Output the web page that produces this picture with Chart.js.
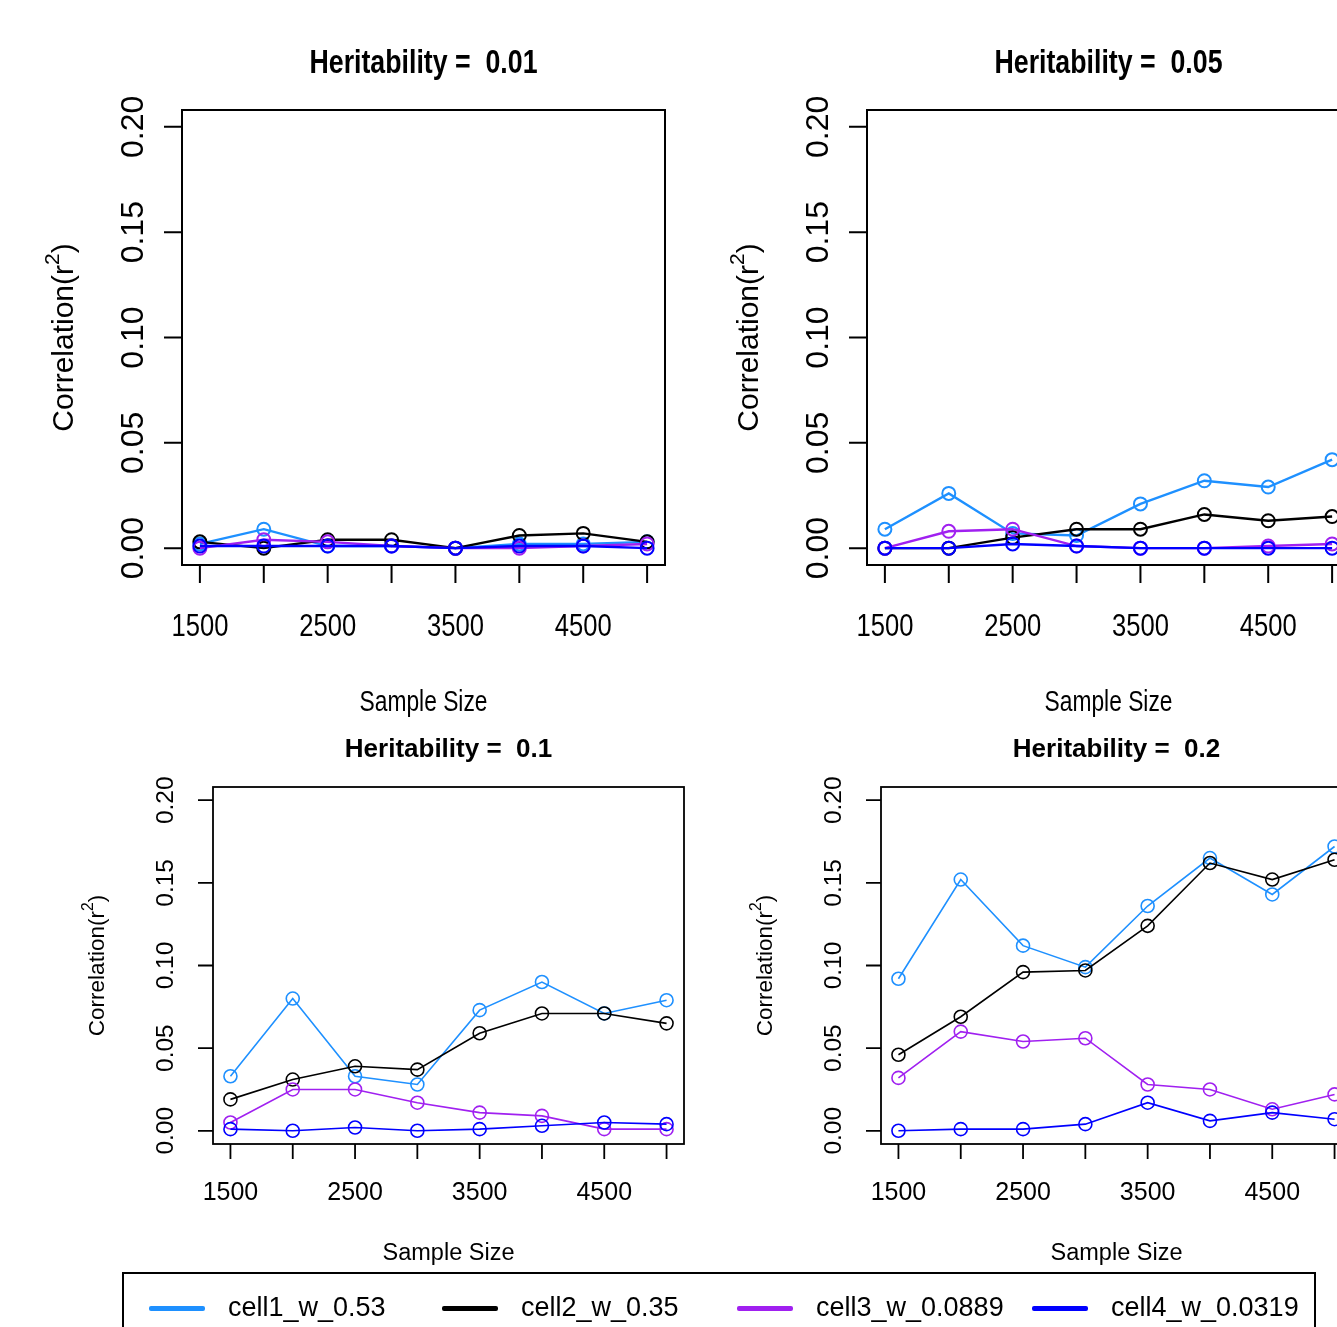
<!DOCTYPE html>
<html>
<head>
<meta charset="utf-8">
<script src="https://cdn.jsdelivr.net/npm/chart.js@4.4.1/dist/chart.umd.min.js"></script>
<style>
  html, body { margin: 0; padding: 0; background: #fff; }
  #page { position: relative; width: 1337px; height: 1327px; overflow: hidden; background: #fff; }
  .panel { position: absolute; }
  #legend {
    position: absolute; left: 122px; top: 1272px; width: 1190px; height: 80px;
    border: 2px solid #000; box-sizing: content-box;
    font-family: "Liberation Sans", Arial, sans-serif; font-size: 27px; color: #000;
  }
  .leg-line { position: absolute; top: 32px; width: 56px; height: 5px; border-radius: 2px; }
  .leg-text { position: absolute; top: 15px; line-height: 36px; white-space: nowrap; }
</style>
</head>
<body>
<div id="page">
  <div class="panel" style="left:0px;top:0px"><canvas id="p1" width="690" height="720"></canvas></div>
  <div class="panel" style="left:685px;top:0px"><canvas id="p2" width="690" height="720"></canvas></div>
  <div class="panel" style="left:0px;top:720px"><canvas id="p3" width="720" height="560"></canvas></div>
  <div class="panel" style="left:668px;top:720px"><canvas id="p4" width="720" height="560"></canvas></div>
  <div id="legend"></div>
</div>
<script>
const sampleSizes = [1500, 2000, 2500, 3000, 3500, 4000, 4500, 5000];
const xLabelValues = [1500, 2500, 3500, 4500];
const yTickValues = [0, 0.05, 0.10, 0.15, 0.20];
const yTickLabels = ["0.00", "0.05", "0.10", "0.15", "0.20"];

const seriesNames = ["cell1_w_0.53", "cell2_w_0.35", "cell3_w_0.0889", "cell4_w_0.0319"];
const seriesColors = ["#1E90FF", "#000000", "#A020F0", "#0000FF"];

// heritability 0.01
const h001_cell1 = [0.002, 0.009, 0.001, 0.001, 0.000, 0.002, 0.002, 0.003];
const h001_cell2 = [0.003, 0.000, 0.004, 0.004, 0.000, 0.006, 0.007, 0.003];
const h001_cell3 = [0.000, 0.004, 0.003, 0.001, 0.000, 0.000, 0.001, 0.002];
const h001_cell4 = [0.001, 0.001, 0.001, 0.001, 0.000, 0.001, 0.001, 0.000];
// heritability 0.05
const h005_cell1 = [0.009, 0.026, 0.007, 0.006, 0.021, 0.032, 0.029, 0.042];
const h005_cell2 = [0.000, 0.000, 0.005, 0.009, 0.009, 0.016, 0.013, 0.015];
const h005_cell3 = [0.000, 0.008, 0.009, 0.001, 0.000, 0.000, 0.001, 0.002];
const h005_cell4 = [0.000, 0.000, 0.002, 0.001, 0.000, 0.000, 0.000, 0.000];
// heritability 0.1
const h01_cell1 = [0.033, 0.080, 0.033, 0.028, 0.073, 0.090, 0.071, 0.079];
const h01_cell2 = [0.019, 0.031, 0.039, 0.037, 0.059, 0.071, 0.071, 0.065];
const h01_cell3 = [0.005, 0.025, 0.025, 0.017, 0.011, 0.009, 0.001, 0.001];
const h01_cell4 = [0.001, 0.000, 0.002, 0.000, 0.001, 0.003, 0.005, 0.004];
// heritability 0.2
const h02_cell1 = [0.092, 0.152, 0.112, 0.099, 0.136, 0.165, 0.143, 0.172];
const h02_cell2 = [0.046, 0.069, 0.096, 0.097, 0.124, 0.162, 0.152, 0.164];
const h02_cell3 = [0.032, 0.060, 0.054, 0.056, 0.028, 0.025, 0.013, 0.022];
const h02_cell4 = [0.000, 0.001, 0.001, 0.004, 0.017, 0.006, 0.011, 0.007];

const FONT = '"Liberation Sans", Arial, sans-serif';

// text styles: big (top row) and small (bottom row)
const bigStyle = {
    lineW: 2.4, pointR: 6.5, pointW: 2, boxW: 2, tickLen: 18,
    title: { size: 33, sx: 0.81, dy: -46 },
    xlab: { size: 32, sx: 0.8, dy: 62 },
    xtitle: { size: 30, sx: 0.76, dy: 138 },
    ylab: { size: 32, dx: -48 },
    ytitle: { size: 30, dx: -117 }
};
const smallStyle = {
    lineW: 1.6, pointR: 6.5, pointW: 1.6, boxW: 1.8, tickLen: 15,
    title: { size: 26, sx: 1, dy: -37 },
    xlab: { size: 25, sx: 1, dy: 49 },
    xtitle: { size: 23.5, sx: 1, dy: 110 },
    ylab: { size: 24.5, dx: -47 },
    ytitle: { size: 22.5, dx: -115 }
};

function drawText(ctx, txt, x, y, size, bold, sx) {
    ctx.save();
    ctx.translate(x, y);
    ctx.scale(sx, 1);
    ctx.font = (bold ? "bold " : "") + size + "px " + FONT;
    ctx.textAlign = "center";
    ctx.textBaseline = "middle";
    ctx.fillText(txt, 0, 0);
    ctx.restore();
}

/* R style box, axes and labels */
const rAxes = {
    id: "rAxes",
    afterDraw(chart, args, opts) {
        const ctx = chart.ctx, a = chart.chartArea, st = opts.style;
        const xs = chart.scales.x, ys = chart.scales.y;
        ctx.save();
        ctx.strokeStyle = "#000";
        ctx.fillStyle = "#000";
        ctx.lineWidth = st.boxW;
        ctx.strokeRect(a.left, a.top, a.right - a.left, a.bottom - a.top);

        // x ticks
        ctx.beginPath();
        sampleSizes.forEach(v => {
            const px = xs.getPixelForValue(v);
            ctx.moveTo(px, a.bottom);
            ctx.lineTo(px, a.bottom + st.tickLen);
        });
        // y ticks
        yTickValues.forEach(v => {
            const py = ys.getPixelForValue(v);
            ctx.moveTo(a.left, py);
            ctx.lineTo(a.left - st.tickLen, py);
        });
        ctx.stroke();

        xLabelValues.forEach(v => {
            drawText(ctx, String(v), xs.getPixelForValue(v), a.bottom + st.xlab.dy, st.xlab.size, false, st.xlab.sx);
        });

        yTickValues.forEach((v, i) => {
            ctx.save();
            ctx.translate(a.left + st.ylab.dx, ys.getPixelForValue(v));
            ctx.rotate(-Math.PI / 2);
            drawText(ctx, yTickLabels[i], 0, 0, st.ylab.size, false, 1);
            ctx.restore();
        });

        const cx = (a.left + a.right) / 2;
        const cy = (a.top + a.bottom) / 2;
        drawText(ctx, opts.title, cx, a.top + st.title.dy, st.title.size, true, st.title.sx);
        drawText(ctx, "Sample Size", cx, a.bottom + st.xtitle.dy, st.xtitle.size, false, st.xtitle.sx);

        // y title with superscript
        ctx.save();
        ctx.translate(a.left + st.ytitle.dx, cy);
        ctx.rotate(-Math.PI / 2);
        const fs = st.ytitle.size, sup = fs * 0.7;
        ctx.font = fs + "px " + FONT;
        const w1 = ctx.measureText("Correlation(r").width;
        const w3 = ctx.measureText(")").width;
        ctx.font = sup + "px " + FONT;
        const w2 = ctx.measureText("2").width;
        let x0 = -(w1 + w2 + w3) / 2;
        ctx.textAlign = "left";
        ctx.textBaseline = "middle";
        ctx.font = fs + "px " + FONT;
        ctx.fillText("Correlation(r", x0, 0);
        ctx.font = sup + "px " + FONT;
        ctx.fillText("2", x0 + w1, -fs * 0.4);
        ctx.font = fs + "px " + FONT;
        ctx.fillText(")", x0 + w1 + w2, 0);
        ctx.restore();

        ctx.restore();
    }
};

function makePanel(id, title, series, style, pad) {
    const datasets = series.map((vals, i) => ({
        label: seriesNames[i],
        data: sampleSizes.map((s, j) => ({ x: s, y: vals[j] })),
        borderColor: seriesColors[i],
        pointBorderColor: seriesColors[i],
        pointBackgroundColor: "rgba(0,0,0,0)",
        borderWidth: style.lineW,
        pointRadius: style.pointR,
        pointBorderWidth: style.pointW,
        tension: 0,
        order: series.length - i
    }));
    return new Chart(document.getElementById(id), {
        type: "line",
        data: { datasets: datasets },
        options: {
            responsive: false,
            animation: false,
            layout: { padding: pad },
            scales: {
                x: { type: "linear", min: 1360, max: 5140, display: false },
                y: { min: -0.008, max: 0.208, display: false }
            },
            plugins: {
                legend: { display: false },
                tooltip: { enabled: false },
                rAxes: { title: title, style: style }
            }
        },
        plugins: [rAxes]
    });
}

const padTop = { left: 182, top: 110, right: 25, bottom: 155 };
const padBottom = { left: 213, top: 67, right: 36, bottom: 136 };

makePanel("p1", "Heritability =  0.01", [h001_cell1, h001_cell2, h001_cell3, h001_cell4], bigStyle, padTop);
makePanel("p2", "Heritability =  0.05", [h005_cell1, h005_cell2, h005_cell3, h005_cell4], bigStyle, padTop);
makePanel("p3", "Heritability =  0.1", [h01_cell1, h01_cell2, h01_cell3, h01_cell4], smallStyle, padBottom);
makePanel("p4", "Heritability =  0.2", [h02_cell1, h02_cell2, h02_cell3, h02_cell4], smallStyle, padBottom);

/* LEGEND */
const legend = document.getElementById("legend");
const legendX = [25, 318, 613, 908];
seriesNames.forEach((name, i) => {
    legend.innerHTML += `
        <div class="leg-line" style="left:${legendX[i]}px;background:${seriesColors[i]}"></div>
        <div class="leg-text" style="left:${legendX[i] + 79}px">${name}</div>`;
});
</script>
</body>
</html>
